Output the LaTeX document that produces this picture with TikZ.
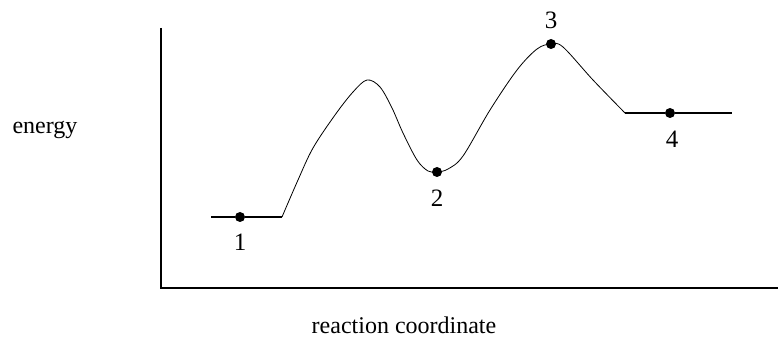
\documentclass[tikz,border=0pt]{standalone}
\usepackage{fontspec}
\setmainfont{Liberation Serif}
\usepackage{tikz}

\begin{document}
\begin{tikzpicture}[
  x=1pt, y=-1pt,
  axis/.style ={line width=1.6pt, draw=black},
  level/.style={line width=1.4pt, draw=black},
  curve/.style={line width=0.8pt, draw=black},
  state/.style={circle, fill=black, inner sep=0pt, minimum size=10pt},
  num/.style  ={font=\fontsize{25}{28}\selectfont, inner sep=0pt},
  word/.style ={font=\fontsize{24}{28}\selectfont, inner sep=0pt},
]
\useasboundingbox (0,0) rectangle (779,339);

% axes
\coordinate (top)    at (161,28);
\coordinate (origin) at (161,288);
\coordinate (right)  at (778,288);
\draw[axis] (top) -- (origin) -- (right);

\node[word] (energy) at (45,130) {energy};
\node[word] (rc) at (404,325) {reaction coordinate};

% states
\node[state] (s1) at (240,217) {};
\node[state] (s2) at (437,172) {};
\node[state] (s3) at (551,44)  {};
\node[state] (s4) at (670,113) {};

\node[num] (l1) at (240,242) {1};
\node[num] (l2) at (437,198) {2};
\node[num] (l3) at (551,20)  {3};
\node[num] (l4) at (672,139) {4};

% energy profile
\coordinate (a0) at (211,217);
\coordinate (a1) at (282,217);
\coordinate (b0) at (625,113);
\coordinate (b1) at (732,113);

\draw[level] (a0) -- (s1) -- (a1);
\draw[curve] plot[smooth, tension=0.55] coordinates {
  (282,217) (298,180) (313,148) (335,115) (353,92) (367,80) (380,87)
  (392,108) (403,133) (417,160) (428,171) (437,172) (448,169)
  (463,156) (490,110) (517,70) (537,49) (551,44) (563,47) (593,80) (625,113)};
\draw[level] (b0) -- (s4) -- (b1);

\end{tikzpicture}
\end{document}
